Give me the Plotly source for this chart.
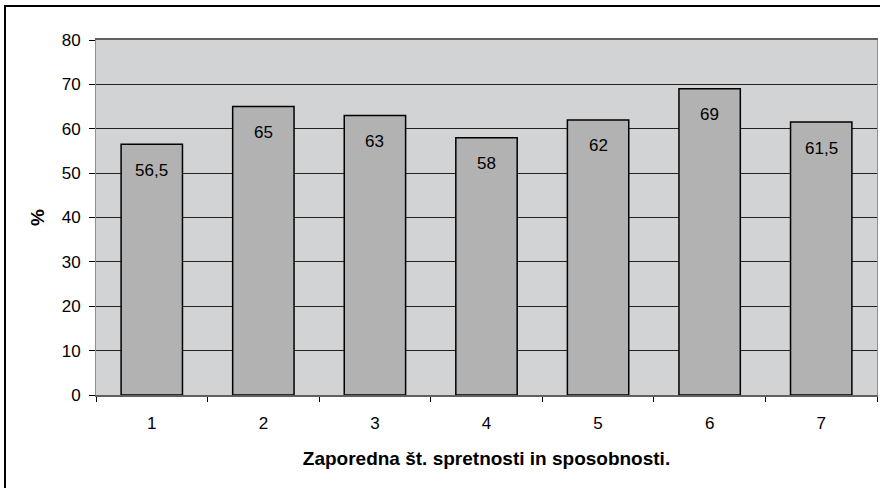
import plotly.graph_objects as go

categories = ["1", "2", "3", "4", "5", "6", "7"]
values = [56.5, 65, 63, 58, 62, 69, 61.5]
y_ticks = [0, 10, 20, 30, 40, 50, 60, 70, 80]
x_title = "Zaporedna št. spretnosti in sposobnosti."
y_title = "%"

labels = [("%g" % v).replace(".", ",") for v in values]

FONT = "Liberation Sans, Arial, sans-serif"

fig = go.Figure()
fig.add_trace(go.Bar(
    x=categories, y=values,
    marker=dict(color="#B2B2B2", line=dict(color="#000000", width=1.5)),
    hoverinfo="skip",
))

for i, (v, t) in enumerate(zip(values, labels)):
    fig.add_annotation(x=i, y=v, text=t, showarrow=False, yanchor="middle",
                       yshift=-26, font=dict(family=FONT, size=17, color="#000"))

W, H = 880, 488
L, R, T, B = 96, 3, 40, 93
pw, ph = W - L - R, H - T - B
# outer frame
fig.add_shape(type="rect", xref="paper", yref="paper",
              x0=(5 - L) / pw, x1=(W + 10 - L) / pw,
              y0=-(H + 10 - T - ph) / ph, y1=(H - B - 6) / ph,
              line=dict(color="#000", width=2), fillcolor="rgba(0,0,0,0)", layer="below")

fig.update_layout(
    width=W, height=H,
    margin=dict(l=L, r=R, t=T, b=B, autoexpand=False),
    paper_bgcolor="white", plot_bgcolor="#D2D3D5",
    bargap=0.45, showlegend=False,
    font=dict(family=FONT, size=16, color="#000"),
    xaxis=dict(
        type="category", tickson="boundaries", ticks="outside", ticklen=5,
        tickcolor="#000", showgrid=False, showline=True, linecolor="#606060",
        linewidth=1.5, mirror=True, automargin=False, range=[-0.5, 6.5],
        ticklabelstandoff=12,
        title=dict(text="<b>" + x_title + "</b>", standoff=20),
        tickfont=dict(size=17),
    ),
    yaxis=dict(
        range=[0, 80], tickvals=y_ticks, ticks="outside", ticklen=6, tickcolor="#000",
        showgrid=True, gridcolor="#222", gridwidth=1, zeroline=False, automargin=False,
        showline=True, linecolor="#909090", linewidth=1, mirror=True,
        ticklabelstandoff=5,
        title=dict(text="<b>" + y_title + "</b>", standoff=12),
        tickfont=dict(size=17),
    ),
)

fig.write_html("out.html", config={"displayModeBar": False},
               post_script="document.body.style.margin='0';")
